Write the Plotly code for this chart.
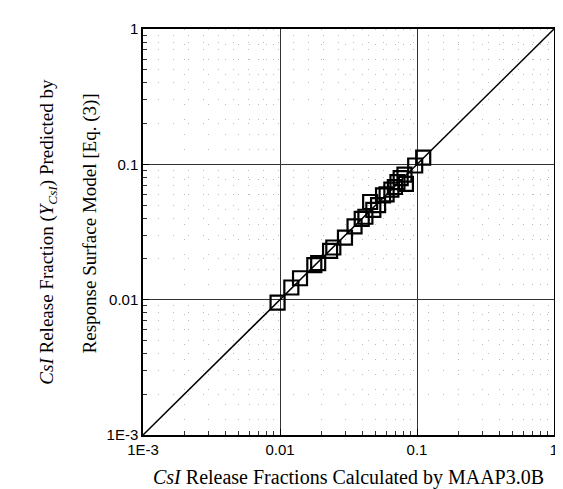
import plotly.graph_objects as go

# MAAP3.0B calculated vs response-surface predicted CsI release fractions
maap_x = [0.0096, 0.0121, 0.0140, 0.0178, 0.0190, 0.0232, 0.0245, 0.0298, 0.0350,
          0.0395, 0.0420, 0.0455, 0.0480, 0.0520, 0.0565, 0.0600, 0.0650, 0.0690,
          0.0720, 0.0760, 0.0810, 0.0830, 0.0970, 0.111]
rsm_y = [0.0095, 0.0123, 0.0144, 0.0180, 0.0186, 0.0229, 0.0243, 0.0287, 0.0348,
         0.0395, 0.0410, 0.0527, 0.0460, 0.0500, 0.0590, 0.0600, 0.0650, 0.0680,
         0.0740, 0.0790, 0.0840, 0.0716, 0.0980, 0.112]
diag = [0.001, 1]
tick_vals = [0.001, 0.01, 0.1, 1]
tick_text = ["1E-3", "0.01", "0.1", "1"]

serif = 'Liberation Serif, Times New Roman'

fig = go.Figure()
fig.add_trace(go.Scatter(
    x=diag, y=diag, mode='lines',
    line=dict(color='black', width=1.5), showlegend=False
))
fig.add_trace(go.Scatter(
    x=maap_x, y=rsm_y, mode='markers',
    marker=dict(symbol='square-open', size=14, color='black', line=dict(width=2.2)),
    showlegend=False
))

axis_common = dict(
    type='log', range=[-3, 0],
    tickvals=tick_vals, ticktext=tick_text,
    showline=True, linecolor='black', linewidth=1.5, mirror=True,
    ticks='inside', ticklen=6, tickcolor='black',
    showgrid=True, gridcolor='#333', gridwidth=1.2,
    zeroline=False,
    tickfont=dict(family='Liberation Sans, Arial', size=15, color='black'),
    minor=dict(dtick='D1', ticks='inside', ticklen=4, tickcolor='#333',
               showgrid=True, gridcolor='#bbb', griddash='1px,14px', gridwidth=1),
)

fig.update_xaxes(**axis_common)
fig.update_yaxes(**axis_common)

# axis titles as annotations so the two y-title lines can be spaced like the original
fig.add_annotation(
    text='<i>CsI</i> Release Fractions Calculated by MAAP3.0B',
    xref='paper', yref='paper', x=0.5, y=-0.105, xanchor='center', yanchor='middle',
    showarrow=False, font=dict(family=serif, size=20, color='black'),
)
fig.add_annotation(
    text='<i>CsI</i> Release Fraction (<i>Y</i><sub><i>CsI</i></sub>) Predicted by',
    xref='paper', yref='paper', x=-0.232, y=0.5, xanchor='center', yanchor='middle',
    textangle=-90, showarrow=False, font=dict(family=serif, size=19, color='black'),
)
fig.add_annotation(
    text='Response Surface Model [Eq. (3)]',
    xref='paper', yref='paper', x=-0.13, y=0.52, xanchor='center', yanchor='middle',
    textangle=-90, showarrow=False, font=dict(family=serif, size=19, color='black'),
)

fig.update_layout(
    width=563, height=489,
    margin=dict(l=135, r=17, t=14, b=62),
    paper_bgcolor='white', plot_bgcolor='white',
)

fig.write_html("out.html")
